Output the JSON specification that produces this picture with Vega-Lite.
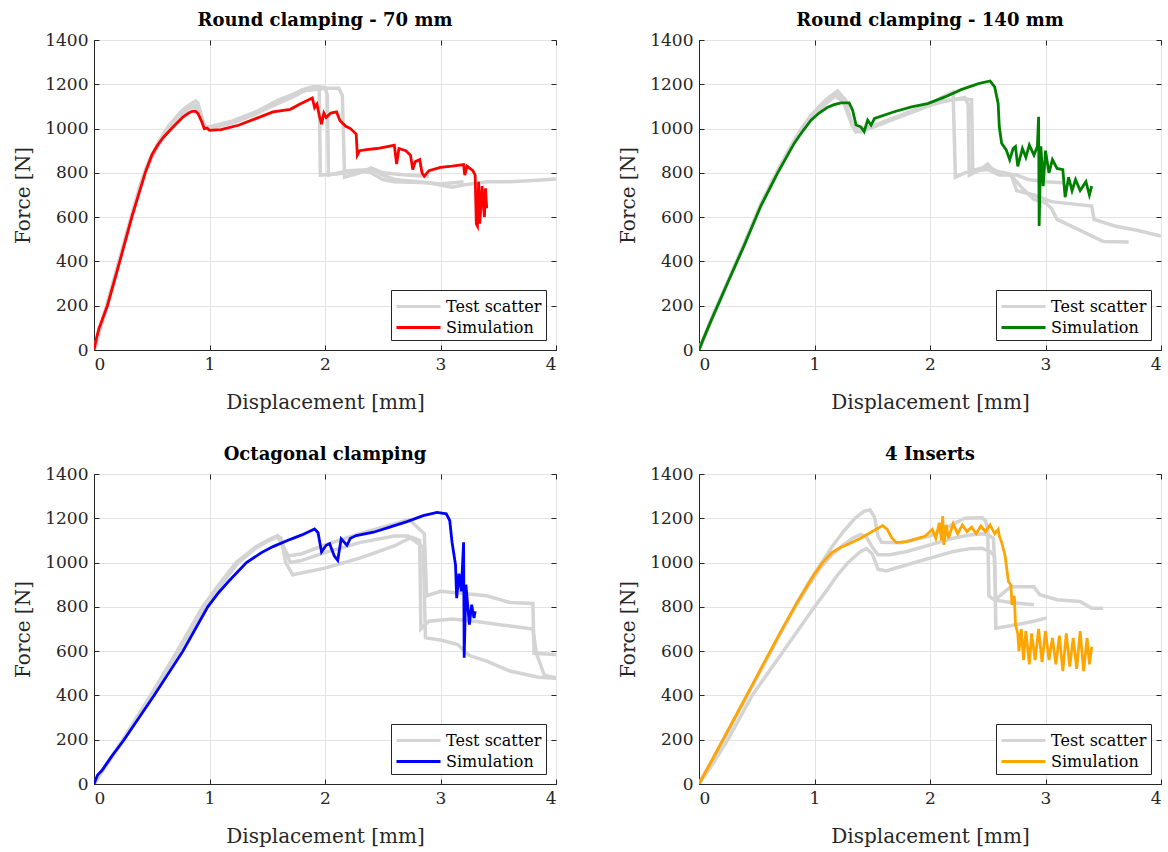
{
"$schema":"https://vega.github.io/schema/vega-lite/v6.json",
"background":"white",
"padding":{"left":13,"top":11,"right":2,"bottom":2},
"config":{
 "font":"DejaVu Serif",
 "view":{"stroke":"#262626","strokeWidth":1},
 "axis":{"domainColor":"#262626","tickColor":"#262626","labelColor":"#262626","titleColor":"#262626","labelFontSize":17,"titleFontSize":20,"titleFontWeight":"normal","gridColor":"#e3e3e3","tickSize":-5,"labelPadding":11},
 "axisX":{"titlePadding":20},
 "axisY":{"titlePadding":11},
 "title":{"fontSize":18,"fontWeight":"bold","color":"black","offset":1},
 "legend":{"orient":"bottom-right","title":null,"strokeColor":"#262626","fillColor":"white","padding":4,"offset":10,"symbolType":"M-1,0L3,0","symbolSize":484,"symbolStrokeWidth":3,"labelFontSize":16,"labelColor":"black","rowPadding":0,"cornerRadius":0,"labelOffset":26,"labelLimit":300}
},
"datasets":{
 "p1":[
{"r":"T1","k":"Test scatter","x":0,"y":0},{"r":"T1","k":"Test scatter","x":0.05,"y":90},{"r":"T1","k":"Test scatter","x":0.1,"y":180},{"r":"T1","k":"Test scatter","x":0.2,"y":370},{"r":"T1","k":"Test scatter","x":0.3,"y":560},{"r":"T1","k":"Test scatter","x":0.4,"y":745},{"r":"T1","k":"Test scatter","x":0.45,"y":820},{"r":"T1","k":"Test scatter","x":0.5,"y":880},{"r":"T1","k":"Test scatter","x":0.55,"y":930},{"r":"T1","k":"Test scatter","x":0.6,"y":975},{"r":"T1","k":"Test scatter","x":0.65,"y":1015},{"r":"T1","k":"Test scatter","x":0.7,"y":1045},{"r":"T1","k":"Test scatter","x":0.75,"y":1075},{"r":"T1","k":"Test scatter","x":0.8,"y":1098},{"r":"T1","k":"Test scatter","x":0.85,"y":1115},{"r":"T1","k":"Test scatter","x":0.88,"y":1125},{"r":"T1","k":"Test scatter","x":0.9,"y":1115},{"r":"T1","k":"Test scatter","x":0.92,"y":1080},{"r":"T1","k":"Test scatter","x":0.95,"y":1020},{"r":"T1","k":"Test scatter","x":0.98,"y":1005},{"r":"T1","k":"Test scatter","x":1.05,"y":1005},{"r":"T1","k":"Test scatter","x":1.2,"y":1030},{"r":"T1","k":"Test scatter","x":1.4,"y":1070},{"r":"T1","k":"Test scatter","x":1.6,"y":1115},{"r":"T1","k":"Test scatter","x":1.75,"y":1150},{"r":"T1","k":"Test scatter","x":1.85,"y":1180},{"r":"T1","k":"Test scatter","x":1.95,"y":1188},{"r":"T1","k":"Test scatter","x":1.96,"y":790},{"r":"T1","k":"Test scatter","x":2.1,"y":795},{"r":"T1","k":"Test scatter","x":2.3,"y":810},{"r":"T1","k":"Test scatter","x":2.4,"y":800},{"r":"T1","k":"Test scatter","x":2.5,"y":770},{"r":"T1","k":"Test scatter","x":2.6,"y":760},{"r":"T1","k":"Test scatter","x":2.9,"y":755},{"r":"T1","k":"Test scatter","x":3.0,"y":745},{"r":"T1","k":"Test scatter","x":3.1,"y":735},{"r":"T1","k":"Test scatter","x":3.2,"y":745},{"r":"T1","k":"Test scatter","x":3.4,"y":760},{"r":"T1","k":"Test scatter","x":3.6,"y":760},{"r":"T1","k":"Test scatter","x":3.8,"y":765},{"r":"T1","k":"Test scatter","x":4.0,"y":772},
{"r":"T2","k":"Test scatter","x":0,"y":0},{"r":"T2","k":"Test scatter","x":0.05,"y":88},{"r":"T2","k":"Test scatter","x":0.1,"y":176},{"r":"T2","k":"Test scatter","x":0.2,"y":362},{"r":"T2","k":"Test scatter","x":0.3,"y":550},{"r":"T2","k":"Test scatter","x":0.4,"y":735},{"r":"T2","k":"Test scatter","x":0.45,"y":810},{"r":"T2","k":"Test scatter","x":0.5,"y":868},{"r":"T2","k":"Test scatter","x":0.55,"y":918},{"r":"T2","k":"Test scatter","x":0.6,"y":962},{"r":"T2","k":"Test scatter","x":0.65,"y":1000},{"r":"T2","k":"Test scatter","x":0.7,"y":1030},{"r":"T2","k":"Test scatter","x":0.75,"y":1060},{"r":"T2","k":"Test scatter","x":0.8,"y":1082},{"r":"T2","k":"Test scatter","x":0.86,"y":1100},{"r":"T2","k":"Test scatter","x":0.9,"y":1085},{"r":"T2","k":"Test scatter","x":0.93,"y":1040},{"r":"T2","k":"Test scatter","x":0.96,"y":1005},{"r":"T2","k":"Test scatter","x":1.0,"y":1000},{"r":"T2","k":"Test scatter","x":1.2,"y":1025},{"r":"T2","k":"Test scatter","x":1.4,"y":1065},{"r":"T2","k":"Test scatter","x":1.6,"y":1120},{"r":"T2","k":"Test scatter","x":1.8,"y":1175},{"r":"T2","k":"Test scatter","x":1.9,"y":1190},{"r":"T2","k":"Test scatter","x":2.0,"y":1186},{"r":"T2","k":"Test scatter","x":2.02,"y":1150},{"r":"T2","k":"Test scatter","x":2.03,"y":790},{"r":"T2","k":"Test scatter","x":2.2,"y":810},{"r":"T2","k":"Test scatter","x":2.4,"y":815},{"r":"T2","k":"Test scatter","x":2.5,"y":790},{"r":"T2","k":"Test scatter","x":2.6,"y":770},{"r":"T2","k":"Test scatter","x":2.8,"y":760},{"r":"T2","k":"Test scatter","x":3.0,"y":750},{"r":"T2","k":"Test scatter","x":3.2,"y":760},
{"r":"T3","k":"Test scatter","x":0,"y":0},{"r":"T3","k":"Test scatter","x":0.05,"y":92},{"r":"T3","k":"Test scatter","x":0.1,"y":182},{"r":"T3","k":"Test scatter","x":0.2,"y":368},{"r":"T3","k":"Test scatter","x":0.3,"y":556},{"r":"T3","k":"Test scatter","x":0.4,"y":740},{"r":"T3","k":"Test scatter","x":0.45,"y":815},{"r":"T3","k":"Test scatter","x":0.5,"y":874},{"r":"T3","k":"Test scatter","x":0.55,"y":924},{"r":"T3","k":"Test scatter","x":0.6,"y":968},{"r":"T3","k":"Test scatter","x":0.65,"y":1008},{"r":"T3","k":"Test scatter","x":0.7,"y":1038},{"r":"T3","k":"Test scatter","x":0.75,"y":1068},{"r":"T3","k":"Test scatter","x":0.8,"y":1090},{"r":"T3","k":"Test scatter","x":0.86,"y":1108},{"r":"T3","k":"Test scatter","x":0.9,"y":1098},{"r":"T3","k":"Test scatter","x":0.94,"y":1030},{"r":"T3","k":"Test scatter","x":0.97,"y":1008},{"r":"T3","k":"Test scatter","x":1.0,"y":1008},{"r":"T3","k":"Test scatter","x":1.2,"y":1035},{"r":"T3","k":"Test scatter","x":1.4,"y":1075},{"r":"T3","k":"Test scatter","x":1.6,"y":1130},{"r":"T3","k":"Test scatter","x":1.8,"y":1170},{"r":"T3","k":"Test scatter","x":2.0,"y":1182},{"r":"T3","k":"Test scatter","x":2.12,"y":1182},{"r":"T3","k":"Test scatter","x":2.15,"y":1150},{"r":"T3","k":"Test scatter","x":2.17,"y":780},{"r":"T3","k":"Test scatter","x":2.3,"y":800},{"r":"T3","k":"Test scatter","x":2.4,"y":822},{"r":"T3","k":"Test scatter","x":2.5,"y":800},{"r":"T3","k":"Test scatter","x":2.7,"y":790},{"r":"T3","k":"Test scatter","x":2.9,"y":785},
{"r":"S","k":"Simulation","x":0,"y":0},{"r":"S","k":"Simulation","x":0.02,"y":50},{"r":"S","k":"Simulation","x":0.043,"y":97},{"r":"S","k":"Simulation","x":0.116,"y":200},{"r":"S","k":"Simulation","x":0.223,"y":400},{"r":"S","k":"Simulation","x":0.327,"y":600},{"r":"S","k":"Simulation","x":0.443,"y":800},{"r":"S","k":"Simulation","x":0.5,"y":880},{"r":"S","k":"Simulation","x":0.55,"y":925},{"r":"S","k":"Simulation","x":0.6,"y":960},{"r":"S","k":"Simulation","x":0.68,"y":1005},{"r":"S","k":"Simulation","x":0.77,"y":1052},{"r":"S","k":"Simulation","x":0.82,"y":1070},{"r":"S","k":"Simulation","x":0.855,"y":1079},{"r":"S","k":"Simulation","x":0.88,"y":1078},{"r":"S","k":"Simulation","x":0.9,"y":1068},{"r":"S","k":"Simulation","x":0.93,"y":1035},{"r":"S","k":"Simulation","x":0.955,"y":1000},{"r":"S","k":"Simulation","x":0.98,"y":1002},{"r":"S","k":"Simulation","x":1.0,"y":992},{"r":"S","k":"Simulation","x":1.1,"y":995},{"r":"S","k":"Simulation","x":1.25,"y":1015},{"r":"S","k":"Simulation","x":1.4,"y":1045},{"r":"S","k":"Simulation","x":1.55,"y":1075},{"r":"S","k":"Simulation","x":1.7,"y":1087},{"r":"S","k":"Simulation","x":1.78,"y":1110},{"r":"S","k":"Simulation","x":1.89,"y":1138},{"r":"S","k":"Simulation","x":1.91,"y":1095},{"r":"S","k":"Simulation","x":1.93,"y":1110},{"r":"S","k":"Simulation","x":1.95,"y":1060},{"r":"S","k":"Simulation","x":1.97,"y":1020},{"r":"S","k":"Simulation","x":1.99,"y":1070},{"r":"S","k":"Simulation","x":2.01,"y":1050},{"r":"S","k":"Simulation","x":2.05,"y":1070},{"r":"S","k":"Simulation","x":2.1,"y":1075},{"r":"S","k":"Simulation","x":2.13,"y":1035},{"r":"S","k":"Simulation","x":2.18,"y":1010},{"r":"S","k":"Simulation","x":2.22,"y":1000},{"r":"S","k":"Simulation","x":2.27,"y":975},{"r":"S","k":"Simulation","x":2.28,"y":880},{"r":"S","k":"Simulation","x":2.3,"y":900},{"r":"S","k":"Simulation","x":2.36,"y":905},{"r":"S","k":"Simulation","x":2.45,"y":910},{"r":"S","k":"Simulation","x":2.55,"y":920},{"r":"S","k":"Simulation","x":2.6,"y":925},{"r":"S","k":"Simulation","x":2.62,"y":840},{"r":"S","k":"Simulation","x":2.64,"y":910},{"r":"S","k":"Simulation","x":2.7,"y":900},{"r":"S","k":"Simulation","x":2.74,"y":880},{"r":"S","k":"Simulation","x":2.76,"y":815},{"r":"S","k":"Simulation","x":2.78,"y":850},{"r":"S","k":"Simulation","x":2.82,"y":860},{"r":"S","k":"Simulation","x":2.84,"y":800},{"r":"S","k":"Simulation","x":2.86,"y":785},{"r":"S","k":"Simulation","x":2.9,"y":810},{"r":"S","k":"Simulation","x":3.0,"y":825},{"r":"S","k":"Simulation","x":3.1,"y":830},{"r":"S","k":"Simulation","x":3.2,"y":837},{"r":"S","k":"Simulation","x":3.21,"y":790},{"r":"S","k":"Simulation","x":3.23,"y":830},{"r":"S","k":"Simulation","x":3.28,"y":810},{"r":"S","k":"Simulation","x":3.3,"y":790},{"r":"S","k":"Simulation","x":3.31,"y":570},{"r":"S","k":"Simulation","x":3.32,"y":560},{"r":"S","k":"Simulation","x":3.33,"y":760},{"r":"S","k":"Simulation","x":3.34,"y":570},{"r":"S","k":"Simulation","x":3.36,"y":740},{"r":"S","k":"Simulation","x":3.38,"y":600},{"r":"S","k":"Simulation","x":3.39,"y":730},{"r":"S","k":"Simulation","x":3.4,"y":640}
 ],
 "p2":[
{"r":"T1","k":"Test scatter","x":0,"y":0},{"r":"T1","k":"Test scatter","x":0.1,"y":130},{"r":"T1","k":"Test scatter","x":0.25,"y":310},{"r":"T1","k":"Test scatter","x":0.39,"y":478},{"r":"T1","k":"Test scatter","x":0.535,"y":658},{"r":"T1","k":"Test scatter","x":0.68,"y":810},{"r":"T1","k":"Test scatter","x":0.825,"y":948},{"r":"T1","k":"Test scatter","x":0.9,"y":1010},{"r":"T1","k":"Test scatter","x":0.97,"y":1060},{"r":"T1","k":"Test scatter","x":1.04,"y":1100},{"r":"T1","k":"Test scatter","x":1.11,"y":1135},{"r":"T1","k":"Test scatter","x":1.2,"y":1170},{"r":"T1","k":"Test scatter","x":1.25,"y":1140},{"r":"T1","k":"Test scatter","x":1.3,"y":1060},{"r":"T1","k":"Test scatter","x":1.35,"y":990},{"r":"T1","k":"Test scatter","x":1.4,"y":985},{"r":"T1","k":"Test scatter","x":1.6,"y":1030},{"r":"T1","k":"Test scatter","x":1.8,"y":1070},{"r":"T1","k":"Test scatter","x":2.0,"y":1110},{"r":"T1","k":"Test scatter","x":2.1,"y":1140},{"r":"T1","k":"Test scatter","x":2.2,"y":1165},{"r":"T1","k":"Test scatter","x":2.22,"y":780},{"r":"T1","k":"Test scatter","x":2.3,"y":800},{"r":"T1","k":"Test scatter","x":2.4,"y":810},{"r":"T1","k":"Test scatter","x":2.5,"y":815},{"r":"T1","k":"Test scatter","x":2.6,"y":790},{"r":"T1","k":"Test scatter","x":2.75,"y":790},{"r":"T1","k":"Test scatter","x":2.85,"y":770},{"r":"T1","k":"Test scatter","x":3.0,"y":760},{"r":"T1","k":"Test scatter","x":3.15,"y":755},
{"r":"T2","k":"Test scatter","x":0,"y":0},{"r":"T2","k":"Test scatter","x":0.1,"y":128},{"r":"T2","k":"Test scatter","x":0.25,"y":308},{"r":"T2","k":"Test scatter","x":0.39,"y":474},{"r":"T2","k":"Test scatter","x":0.535,"y":654},{"r":"T2","k":"Test scatter","x":0.68,"y":804},{"r":"T2","k":"Test scatter","x":0.825,"y":940},{"r":"T2","k":"Test scatter","x":0.9,"y":998},{"r":"T2","k":"Test scatter","x":0.97,"y":1045},{"r":"T2","k":"Test scatter","x":1.04,"y":1085},{"r":"T2","k":"Test scatter","x":1.11,"y":1118},{"r":"T2","k":"Test scatter","x":1.18,"y":1148},{"r":"T2","k":"Test scatter","x":1.25,"y":1120},{"r":"T2","k":"Test scatter","x":1.3,"y":1050},{"r":"T2","k":"Test scatter","x":1.35,"y":1000},{"r":"T2","k":"Test scatter","x":1.5,"y":1010},{"r":"T2","k":"Test scatter","x":1.7,"y":1050},{"r":"T2","k":"Test scatter","x":1.9,"y":1090},{"r":"T2","k":"Test scatter","x":2.1,"y":1120},{"r":"T2","k":"Test scatter","x":2.3,"y":1140},{"r":"T2","k":"Test scatter","x":2.33,"y":1110},{"r":"T2","k":"Test scatter","x":2.34,"y":790},{"r":"T2","k":"Test scatter","x":2.45,"y":820},{"r":"T2","k":"Test scatter","x":2.5,"y":840},{"r":"T2","k":"Test scatter","x":2.55,"y":810},{"r":"T2","k":"Test scatter","x":2.7,"y":795},{"r":"T2","k":"Test scatter","x":2.75,"y":720},{"r":"T2","k":"Test scatter","x":2.9,"y":700},{"r":"T2","k":"Test scatter","x":3.05,"y":670},{"r":"T2","k":"Test scatter","x":3.4,"y":650},{"r":"T2","k":"Test scatter","x":3.42,"y":590},{"r":"T2","k":"Test scatter","x":3.6,"y":560},{"r":"T2","k":"Test scatter","x":3.8,"y":540},{"r":"T2","k":"Test scatter","x":4.0,"y":515},
{"r":"T3","k":"Test scatter","x":0,"y":0},{"r":"T3","k":"Test scatter","x":0.1,"y":129},{"r":"T3","k":"Test scatter","x":0.25,"y":309},{"r":"T3","k":"Test scatter","x":0.39,"y":476},{"r":"T3","k":"Test scatter","x":0.535,"y":656},{"r":"T3","k":"Test scatter","x":0.68,"y":807},{"r":"T3","k":"Test scatter","x":0.825,"y":944},{"r":"T3","k":"Test scatter","x":0.9,"y":1004},{"r":"T3","k":"Test scatter","x":0.97,"y":1052},{"r":"T3","k":"Test scatter","x":1.04,"y":1092},{"r":"T3","k":"Test scatter","x":1.11,"y":1126},{"r":"T3","k":"Test scatter","x":1.2,"y":1160},{"r":"T3","k":"Test scatter","x":1.27,"y":1130},{"r":"T3","k":"Test scatter","x":1.32,"y":1020},{"r":"T3","k":"Test scatter","x":1.36,"y":985},{"r":"T3","k":"Test scatter","x":1.5,"y":1005},{"r":"T3","k":"Test scatter","x":1.7,"y":1045},{"r":"T3","k":"Test scatter","x":1.9,"y":1085},{"r":"T3","k":"Test scatter","x":2.1,"y":1125},{"r":"T3","k":"Test scatter","x":2.3,"y":1135},{"r":"T3","k":"Test scatter","x":2.36,"y":1130},{"r":"T3","k":"Test scatter","x":2.37,"y":810},{"r":"T3","k":"Test scatter","x":2.5,"y":830},{"r":"T3","k":"Test scatter","x":2.6,"y":800},{"r":"T3","k":"Test scatter","x":2.7,"y":790},{"r":"T3","k":"Test scatter","x":2.8,"y":730},{"r":"T3","k":"Test scatter","x":2.9,"y":680},{"r":"T3","k":"Test scatter","x":3.0,"y":665},{"r":"T3","k":"Test scatter","x":3.05,"y":640},{"r":"T3","k":"Test scatter","x":3.1,"y":590},{"r":"T3","k":"Test scatter","x":3.3,"y":540},{"r":"T3","k":"Test scatter","x":3.5,"y":490},{"r":"T3","k":"Test scatter","x":3.72,"y":488},
{"r":"S","k":"Simulation","x":0,"y":0},{"r":"S","k":"Simulation","x":0.03,"y":40},{"r":"S","k":"Simulation","x":0.1,"y":127},{"r":"S","k":"Simulation","x":0.25,"y":306},{"r":"S","k":"Simulation","x":0.39,"y":471},{"r":"S","k":"Simulation","x":0.535,"y":650},{"r":"S","k":"Simulation","x":0.68,"y":799},{"r":"S","k":"Simulation","x":0.825,"y":934},{"r":"S","k":"Simulation","x":0.9,"y":990},{"r":"S","k":"Simulation","x":0.97,"y":1038},{"r":"S","k":"Simulation","x":1.04,"y":1070},{"r":"S","k":"Simulation","x":1.11,"y":1095},{"r":"S","k":"Simulation","x":1.17,"y":1108},{"r":"S","k":"Simulation","x":1.23,"y":1116},{"r":"S","k":"Simulation","x":1.3,"y":1116},{"r":"S","k":"Simulation","x":1.33,"y":1083},{"r":"S","k":"Simulation","x":1.36,"y":1016},{"r":"S","k":"Simulation","x":1.4,"y":1008},{"r":"S","k":"Simulation","x":1.43,"y":986},{"r":"S","k":"Simulation","x":1.46,"y":1038},{"r":"S","k":"Simulation","x":1.49,"y":1016},{"r":"S","k":"Simulation","x":1.52,"y":1046},{"r":"S","k":"Simulation","x":1.69,"y":1076},{"r":"S","k":"Simulation","x":1.84,"y":1098},{"r":"S","k":"Simulation","x":1.98,"y":1113},{"r":"S","k":"Simulation","x":2.13,"y":1143},{"r":"S","k":"Simulation","x":2.27,"y":1176},{"r":"S","k":"Simulation","x":2.42,"y":1203},{"r":"S","k":"Simulation","x":2.52,"y":1215},{"r":"S","k":"Simulation","x":2.56,"y":1188},{"r":"S","k":"Simulation","x":2.59,"y":1113},{"r":"S","k":"Simulation","x":2.6,"y":1008},{"r":"S","k":"Simulation","x":2.62,"y":934},{"r":"S","k":"Simulation","x":2.66,"y":904},{"r":"S","k":"Simulation","x":2.69,"y":859},{"r":"S","k":"Simulation","x":2.72,"y":910},{"r":"S","k":"Simulation","x":2.74,"y":919},{"r":"S","k":"Simulation","x":2.76,"y":829},{"r":"S","k":"Simulation","x":2.8,"y":910},{"r":"S","k":"Simulation","x":2.83,"y":870},{"r":"S","k":"Simulation","x":2.86,"y":926},{"r":"S","k":"Simulation","x":2.9,"y":880},{"r":"S","k":"Simulation","x":2.93,"y":920},{"r":"S","k":"Simulation","x":2.94,"y":1053},{"r":"S","k":"Simulation","x":2.945,"y":560},{"r":"S","k":"Simulation","x":2.96,"y":920},{"r":"S","k":"Simulation","x":2.98,"y":740},{"r":"S","k":"Simulation","x":3.0,"y":900},{"r":"S","k":"Simulation","x":3.03,"y":800},{"r":"S","k":"Simulation","x":3.06,"y":860},{"r":"S","k":"Simulation","x":3.1,"y":820},{"r":"S","k":"Simulation","x":3.15,"y":814},{"r":"S","k":"Simulation","x":3.17,"y":690},{"r":"S","k":"Simulation","x":3.2,"y":780},{"r":"S","k":"Simulation","x":3.23,"y":720},{"r":"S","k":"Simulation","x":3.26,"y":770},{"r":"S","k":"Simulation","x":3.3,"y":720},{"r":"S","k":"Simulation","x":3.35,"y":760},{"r":"S","k":"Simulation","x":3.38,"y":700},{"r":"S","k":"Simulation","x":3.4,"y":740}
 ],
 "p3":[
{"r":"T1","k":"Test scatter","x":0,"y":0},{"r":"T1","k":"Test scatter","x":0.1,"y":85},{"r":"T1","k":"Test scatter","x":0.25,"y":200},{"r":"T1","k":"Test scatter","x":0.49,"y":400},{"r":"T1","k":"Test scatter","x":0.72,"y":600},{"r":"T1","k":"Test scatter","x":0.94,"y":800},{"r":"T1","k":"Test scatter","x":1.08,"y":900},{"r":"T1","k":"Test scatter","x":1.23,"y":1000},{"r":"T1","k":"Test scatter","x":1.4,"y":1070},{"r":"T1","k":"Test scatter","x":1.5,"y":1100},{"r":"T1","k":"Test scatter","x":1.59,"y":1122},{"r":"T1","k":"Test scatter","x":1.62,"y":1110},{"r":"T1","k":"Test scatter","x":1.66,"y":1000},{"r":"T1","k":"Test scatter","x":1.72,"y":945},{"r":"T1","k":"Test scatter","x":2.0,"y":975},{"r":"T1","k":"Test scatter","x":2.3,"y":1020},{"r":"T1","k":"Test scatter","x":2.6,"y":1075},{"r":"T1","k":"Test scatter","x":2.75,"y":1115},{"r":"T1","k":"Test scatter","x":2.82,"y":1100},{"r":"T1","k":"Test scatter","x":2.83,"y":700},{"r":"T1","k":"Test scatter","x":2.9,"y":735},{"r":"T1","k":"Test scatter","x":3.1,"y":745},{"r":"T1","k":"Test scatter","x":3.3,"y":735},{"r":"T1","k":"Test scatter","x":3.5,"y":720},{"r":"T1","k":"Test scatter","x":3.8,"y":700},{"r":"T1","k":"Test scatter","x":3.83,"y":590},{"r":"T1","k":"Test scatter","x":3.9,"y":490},{"r":"T1","k":"Test scatter","x":4.0,"y":480},
{"r":"T2","k":"Test scatter","x":0,"y":0},{"r":"T2","k":"Test scatter","x":0.1,"y":82},{"r":"T2","k":"Test scatter","x":0.25,"y":196},{"r":"T2","k":"Test scatter","x":0.5,"y":400},{"r":"T2","k":"Test scatter","x":0.73,"y":600},{"r":"T2","k":"Test scatter","x":0.95,"y":800},{"r":"T2","k":"Test scatter","x":1.09,"y":900},{"r":"T2","k":"Test scatter","x":1.24,"y":1000},{"r":"T2","k":"Test scatter","x":1.4,"y":1068},{"r":"T2","k":"Test scatter","x":1.5,"y":1098},{"r":"T2","k":"Test scatter","x":1.58,"y":1118},{"r":"T2","k":"Test scatter","x":1.61,"y":1100},{"r":"T2","k":"Test scatter","x":1.68,"y":1030},{"r":"T2","k":"Test scatter","x":1.8,"y":1040},{"r":"T2","k":"Test scatter","x":2.0,"y":1080},{"r":"T2","k":"Test scatter","x":2.3,"y":1130},{"r":"T2","k":"Test scatter","x":2.6,"y":1175},{"r":"T2","k":"Test scatter","x":2.73,"y":1195},{"r":"T2","k":"Test scatter","x":2.8,"y":1160},{"r":"T2","k":"Test scatter","x":2.86,"y":1130},{"r":"T2","k":"Test scatter","x":2.88,"y":850},{"r":"T2","k":"Test scatter","x":3.0,"y":870},{"r":"T2","k":"Test scatter","x":3.2,"y":860},{"r":"T2","k":"Test scatter","x":3.4,"y":850},{"r":"T2","k":"Test scatter","x":3.6,"y":820},{"r":"T2","k":"Test scatter","x":3.8,"y":815},{"r":"T2","k":"Test scatter","x":3.81,"y":590},{"r":"T2","k":"Test scatter","x":4.0,"y":585},
{"r":"T3","k":"Test scatter","x":0,"y":0},{"r":"T3","k":"Test scatter","x":0.1,"y":80},{"r":"T3","k":"Test scatter","x":0.25,"y":193},{"r":"T3","k":"Test scatter","x":0.5,"y":396},{"r":"T3","k":"Test scatter","x":0.74,"y":598},{"r":"T3","k":"Test scatter","x":0.96,"y":800},{"r":"T3","k":"Test scatter","x":1.1,"y":900},{"r":"T3","k":"Test scatter","x":1.25,"y":1000},{"r":"T3","k":"Test scatter","x":1.4,"y":1065},{"r":"T3","k":"Test scatter","x":1.5,"y":1095},{"r":"T3","k":"Test scatter","x":1.58,"y":1115},{"r":"T3","k":"Test scatter","x":1.62,"y":1100},{"r":"T3","k":"Test scatter","x":1.7,"y":1000},{"r":"T3","k":"Test scatter","x":1.8,"y":1010},{"r":"T3","k":"Test scatter","x":2.0,"y":1045},{"r":"T3","k":"Test scatter","x":2.3,"y":1090},{"r":"T3","k":"Test scatter","x":2.6,"y":1120},{"r":"T3","k":"Test scatter","x":2.72,"y":1120},{"r":"T3","k":"Test scatter","x":2.85,"y":1070},{"r":"T3","k":"Test scatter","x":2.87,"y":660},{"r":"T3","k":"Test scatter","x":3.0,"y":650},{"r":"T3","k":"Test scatter","x":3.15,"y":630},{"r":"T3","k":"Test scatter","x":3.25,"y":580},{"r":"T3","k":"Test scatter","x":3.4,"y":555},{"r":"T3","k":"Test scatter","x":3.6,"y":510},{"r":"T3","k":"Test scatter","x":3.85,"y":482},{"r":"T3","k":"Test scatter","x":4.0,"y":478},
{"r":"S","k":"Simulation","x":0,"y":0},{"r":"S","k":"Simulation","x":0.03,"y":40},{"r":"S","k":"Simulation","x":0.07,"y":62},{"r":"S","k":"Simulation","x":0.16,"y":130},{"r":"S","k":"Simulation","x":0.26,"y":200},{"r":"S","k":"Simulation","x":0.52,"y":400},{"r":"S","k":"Simulation","x":0.77,"y":600},{"r":"S","k":"Simulation","x":0.985,"y":800},{"r":"S","k":"Simulation","x":1.08,"y":865},{"r":"S","k":"Simulation","x":1.17,"y":918},{"r":"S","k":"Simulation","x":1.32,"y":1000},{"r":"S","k":"Simulation","x":1.45,"y":1045},{"r":"S","k":"Simulation","x":1.55,"y":1072},{"r":"S","k":"Simulation","x":1.7,"y":1105},{"r":"S","k":"Simulation","x":1.8,"y":1125},{"r":"S","k":"Simulation","x":1.91,"y":1152},{"r":"S","k":"Simulation","x":1.94,"y":1135},{"r":"S","k":"Simulation","x":1.97,"y":1048},{"r":"S","k":"Simulation","x":2.01,"y":1078},{"r":"S","k":"Simulation","x":2.04,"y":1085},{"r":"S","k":"Simulation","x":2.08,"y":1030},{"r":"S","k":"Simulation","x":2.11,"y":1010},{"r":"S","k":"Simulation","x":2.14,"y":1107},{"r":"S","k":"Simulation","x":2.19,"y":1078},{"r":"S","k":"Simulation","x":2.22,"y":1110},{"r":"S","k":"Simulation","x":2.27,"y":1122},{"r":"S","k":"Simulation","x":2.42,"y":1137},{"r":"S","k":"Simulation","x":2.56,"y":1160},{"r":"S","k":"Simulation","x":2.71,"y":1185},{"r":"S","k":"Simulation","x":2.85,"y":1212},{"r":"S","k":"Simulation","x":2.97,"y":1227},{"r":"S","k":"Simulation","x":3.05,"y":1220},{"r":"S","k":"Simulation","x":3.08,"y":1190},{"r":"S","k":"Simulation","x":3.1,"y":1092},{"r":"S","k":"Simulation","x":3.13,"y":990},{"r":"S","k":"Simulation","x":3.14,"y":839},{"r":"S","k":"Simulation","x":3.16,"y":950},{"r":"S","k":"Simulation","x":3.18,"y":870},{"r":"S","k":"Simulation","x":3.2,"y":1092},{"r":"S","k":"Simulation","x":3.205,"y":570},{"r":"S","k":"Simulation","x":3.22,"y":900},{"r":"S","k":"Simulation","x":3.25,"y":720},{"r":"S","k":"Simulation","x":3.27,"y":810},{"r":"S","k":"Simulation","x":3.29,"y":750},{"r":"S","k":"Simulation","x":3.3,"y":780}
 ],
 "p4":[
{"r":"T1","k":"Test scatter","x":0,"y":0},{"r":"T1","k":"Test scatter","x":0.1,"y":92},{"r":"T1","k":"Test scatter","x":0.3,"y":285},{"r":"T1","k":"Test scatter","x":0.5,"y":480},{"r":"T1","k":"Test scatter","x":0.7,"y":675},{"r":"T1","k":"Test scatter","x":0.85,"y":820},{"r":"T1","k":"Test scatter","x":0.95,"y":910},{"r":"T1","k":"Test scatter","x":1.05,"y":990},{"r":"T1","k":"Test scatter","x":1.15,"y":1070},{"r":"T1","k":"Test scatter","x":1.25,"y":1140},{"r":"T1","k":"Test scatter","x":1.35,"y":1200},{"r":"T1","k":"Test scatter","x":1.43,"y":1232},{"r":"T1","k":"Test scatter","x":1.48,"y":1238},{"r":"T1","k":"Test scatter","x":1.52,"y":1205},{"r":"T1","k":"Test scatter","x":1.55,"y":1120},{"r":"T1","k":"Test scatter","x":1.58,"y":1092},{"r":"T1","k":"Test scatter","x":1.75,"y":1090},{"r":"T1","k":"Test scatter","x":2.0,"y":1120},{"r":"T1","k":"Test scatter","x":2.15,"y":1160},{"r":"T1","k":"Test scatter","x":2.3,"y":1200},{"r":"T1","k":"Test scatter","x":2.45,"y":1202},{"r":"T1","k":"Test scatter","x":2.48,"y":1190},{"r":"T1","k":"Test scatter","x":2.5,"y":1150},{"r":"T1","k":"Test scatter","x":2.51,"y":850},{"r":"T1","k":"Test scatter","x":2.56,"y":830},{"r":"T1","k":"Test scatter","x":2.65,"y":870},{"r":"T1","k":"Test scatter","x":2.7,"y":891},{"r":"T1","k":"Test scatter","x":2.9,"y":891},{"r":"T1","k":"Test scatter","x":2.95,"y":855},{"r":"T1","k":"Test scatter","x":3.1,"y":832},{"r":"T1","k":"Test scatter","x":3.3,"y":824},{"r":"T1","k":"Test scatter","x":3.4,"y":794},{"r":"T1","k":"Test scatter","x":3.5,"y":794},
{"r":"T2","k":"Test scatter","x":0,"y":0},{"r":"T2","k":"Test scatter","x":0.1,"y":95},{"r":"T2","k":"Test scatter","x":0.3,"y":288},{"r":"T2","k":"Test scatter","x":0.5,"y":482},{"r":"T2","k":"Test scatter","x":0.7,"y":676},{"r":"T2","k":"Test scatter","x":0.85,"y":815},{"r":"T2","k":"Test scatter","x":0.95,"y":898},{"r":"T2","k":"Test scatter","x":1.05,"y":975},{"r":"T2","k":"Test scatter","x":1.15,"y":1035},{"r":"T2","k":"Test scatter","x":1.25,"y":1080},{"r":"T2","k":"Test scatter","x":1.33,"y":1110},{"r":"T2","k":"Test scatter","x":1.4,"y":1127},{"r":"T2","k":"Test scatter","x":1.45,"y":1115},{"r":"T2","k":"Test scatter","x":1.5,"y":1070},{"r":"T2","k":"Test scatter","x":1.55,"y":1035},{"r":"T2","k":"Test scatter","x":1.65,"y":1035},{"r":"T2","k":"Test scatter","x":1.8,"y":1050},{"r":"T2","k":"Test scatter","x":2.0,"y":1080},{"r":"T2","k":"Test scatter","x":2.2,"y":1110},{"r":"T2","k":"Test scatter","x":2.35,"y":1125},{"r":"T2","k":"Test scatter","x":2.45,"y":1130},{"r":"T2","k":"Test scatter","x":2.5,"y":1125},{"r":"T2","k":"Test scatter","x":2.55,"y":1110},{"r":"T2","k":"Test scatter","x":2.57,"y":830},{"r":"T2","k":"Test scatter","x":2.7,"y":820},{"r":"T2","k":"Test scatter","x":2.9,"y":809},
{"r":"T3","k":"Test scatter","x":0,"y":0},{"r":"T3","k":"Test scatter","x":0.1,"y":75},{"r":"T3","k":"Test scatter","x":0.25,"y":200},{"r":"T3","k":"Test scatter","x":0.46,"y":400},{"r":"T3","k":"Test scatter","x":0.73,"y":600},{"r":"T3","k":"Test scatter","x":1.0,"y":800},{"r":"T3","k":"Test scatter","x":1.1,"y":870},{"r":"T3","k":"Test scatter","x":1.2,"y":945},{"r":"T3","k":"Test scatter","x":1.3,"y":1005},{"r":"T3","k":"Test scatter","x":1.4,"y":1050},{"r":"T3","k":"Test scatter","x":1.45,"y":1063},{"r":"T3","k":"Test scatter","x":1.5,"y":1040},{"r":"T3","k":"Test scatter","x":1.55,"y":970},{"r":"T3","k":"Test scatter","x":1.62,"y":962},{"r":"T3","k":"Test scatter","x":1.8,"y":990},{"r":"T3","k":"Test scatter","x":2.0,"y":1020},{"r":"T3","k":"Test scatter","x":2.2,"y":1050},{"r":"T3","k":"Test scatter","x":2.35,"y":1063},{"r":"T3","k":"Test scatter","x":2.45,"y":1065},{"r":"T3","k":"Test scatter","x":2.52,"y":1050},{"r":"T3","k":"Test scatter","x":2.56,"y":1030},{"r":"T3","k":"Test scatter","x":2.57,"y":704},{"r":"T3","k":"Test scatter","x":2.7,"y":715},{"r":"T3","k":"Test scatter","x":2.9,"y":735},{"r":"T3","k":"Test scatter","x":3.01,"y":750},
{"r":"S","k":"Simulation","x":0,"y":0},{"r":"S","k":"Simulation","x":0.1,"y":95},{"r":"S","k":"Simulation","x":0.3,"y":290},{"r":"S","k":"Simulation","x":0.5,"y":485},{"r":"S","k":"Simulation","x":0.7,"y":680},{"r":"S","k":"Simulation","x":0.85,"y":820},{"r":"S","k":"Simulation","x":0.95,"y":905},{"r":"S","k":"Simulation","x":1.0,"y":948},{"r":"S","k":"Simulation","x":1.07,"y":1000},{"r":"S","k":"Simulation","x":1.15,"y":1045},{"r":"S","k":"Simulation","x":1.22,"y":1067},{"r":"S","k":"Simulation","x":1.3,"y":1085},{"r":"S","k":"Simulation","x":1.4,"y":1110},{"r":"S","k":"Simulation","x":1.5,"y":1140},{"r":"S","k":"Simulation","x":1.59,"y":1167},{"r":"S","k":"Simulation","x":1.63,"y":1150},{"r":"S","k":"Simulation","x":1.67,"y":1110},{"r":"S","k":"Simulation","x":1.71,"y":1090},{"r":"S","k":"Simulation","x":1.8,"y":1095},{"r":"S","k":"Simulation","x":1.96,"y":1120},{"r":"S","k":"Simulation","x":2.02,"y":1150},{"r":"S","k":"Simulation","x":2.05,"y":1110},{"r":"S","k":"Simulation","x":2.08,"y":1180},{"r":"S","k":"Simulation","x":2.1,"y":1100},{"r":"S","k":"Simulation","x":2.11,"y":1210},{"r":"S","k":"Simulation","x":2.12,"y":1080},{"r":"S","k":"Simulation","x":2.14,"y":1170},{"r":"S","k":"Simulation","x":2.16,"y":1110},{"r":"S","k":"Simulation","x":2.2,"y":1175},{"r":"S","k":"Simulation","x":2.24,"y":1130},{"r":"S","k":"Simulation","x":2.28,"y":1170},{"r":"S","k":"Simulation","x":2.32,"y":1140},{"r":"S","k":"Simulation","x":2.36,"y":1160},{"r":"S","k":"Simulation","x":2.4,"y":1130},{"r":"S","k":"Simulation","x":2.44,"y":1165},{"r":"S","k":"Simulation","x":2.48,"y":1140},{"r":"S","k":"Simulation","x":2.52,"y":1170},{"r":"S","k":"Simulation","x":2.56,"y":1130},{"r":"S","k":"Simulation","x":2.59,"y":1150},{"r":"S","k":"Simulation","x":2.6,"y":1120},{"r":"S","k":"Simulation","x":2.62,"y":1092},{"r":"S","k":"Simulation","x":2.65,"y":1030},{"r":"S","k":"Simulation","x":2.68,"y":913},{"r":"S","k":"Simulation","x":2.7,"y":900},{"r":"S","k":"Simulation","x":2.71,"y":809},{"r":"S","k":"Simulation","x":2.73,"y":850},{"r":"S","k":"Simulation","x":2.74,"y":719},{"r":"S","k":"Simulation","x":2.76,"y":680},{"r":"S","k":"Simulation","x":2.77,"y":600},{"r":"S","k":"Simulation","x":2.79,"y":700},{"r":"S","k":"Simulation","x":2.81,"y":560},{"r":"S","k":"Simulation","x":2.83,"y":690},{"r":"S","k":"Simulation","x":2.86,"y":540},{"r":"S","k":"Simulation","x":2.88,"y":680},{"r":"S","k":"Simulation","x":2.91,"y":560},{"r":"S","k":"Simulation","x":2.94,"y":700},{"r":"S","k":"Simulation","x":2.97,"y":550},{"r":"S","k":"Simulation","x":3.0,"y":690},{"r":"S","k":"Simulation","x":3.03,"y":560},{"r":"S","k":"Simulation","x":3.06,"y":660},{"r":"S","k":"Simulation","x":3.09,"y":540},{"r":"S","k":"Simulation","x":3.12,"y":670},{"r":"S","k":"Simulation","x":3.15,"y":510},{"r":"S","k":"Simulation","x":3.18,"y":680},{"r":"S","k":"Simulation","x":3.21,"y":530},{"r":"S","k":"Simulation","x":3.24,"y":660},{"r":"S","k":"Simulation","x":3.27,"y":520},{"r":"S","k":"Simulation","x":3.3,"y":690},{"r":"S","k":"Simulation","x":3.33,"y":510},{"r":"S","k":"Simulation","x":3.36,"y":660},{"r":"S","k":"Simulation","x":3.38,"y":540},{"r":"S","k":"Simulation","x":3.4,"y":620}
 ]
},
"spacing":32,
"vconcat":[
 {"spacing":61,"hconcat":[
  {"title":"Round clamping - 70 mm","width":462,"height":310,"data":{"name":"p1"},
   "layer":[
    {"transform":[{"filter":"datum.k == 'Test scatter'"}],"mark":{"type":"line","strokeWidth":3.5,"clip":true},
     "encoding":{
      "x":{"field":"x","type":"quantitative","scale":{"domain":[0,4],"nice":false},"axis":{"values":[0,1,2,3,4],"title":"Displacement [mm]"}},
      "y":{"field":"y","type":"quantitative","scale":{"domain":[0,1400],"nice":false},"axis":{"values":[0,200,400,600,800,1000,1200,1400],"title":"Force [N]","format":"d"}},
      "color":{"field":"k","type":"nominal","scale":{"domain":["Test scatter","Simulation"],"range":["#d4d4d4","#ff0000"]}},
      "detail":{"field":"r"},"order":{"value":null}}},
    {"transform":[{"filter":"datum.k == 'Simulation'"}],"mark":{"type":"line","strokeWidth":2.8,"clip":true},
     "encoding":{
      "x":{"field":"x","type":"quantitative","axis":{"orient":"top","values":[0,1,2,3,4],"labels":false,"title":null,"grid":false,"domain":false}},
      "y":{"field":"y","type":"quantitative","axis":{"orient":"right","values":[0,200,400,600,800,1000,1200,1400],"labels":false,"title":null,"grid":false,"domain":false}},
      "color":{"field":"k","type":"nominal"},
      "detail":{"field":"r"},"order":{"value":null}}}
   ],"resolve":{"axis":{"x":"independent","y":"independent"}}},
  {"title":"Round clamping - 140 mm","width":462,"height":310,"data":{"name":"p2"},
   "layer":[
    {"transform":[{"filter":"datum.k == 'Test scatter'"}],"mark":{"type":"line","strokeWidth":3.5,"clip":true},
     "encoding":{
      "x":{"field":"x","type":"quantitative","scale":{"domain":[0,4],"nice":false},"axis":{"values":[0,1,2,3,4],"title":"Displacement [mm]"}},
      "y":{"field":"y","type":"quantitative","scale":{"domain":[0,1400],"nice":false},"axis":{"values":[0,200,400,600,800,1000,1200,1400],"title":"Force [N]","format":"d"}},
      "color":{"field":"k","type":"nominal","scale":{"domain":["Test scatter","Simulation"],"range":["#d4d4d4","#008000"]}},
      "detail":{"field":"r"},"order":{"value":null}}},
    {"transform":[{"filter":"datum.k == 'Simulation'"}],"mark":{"type":"line","strokeWidth":2.8,"clip":true},
     "encoding":{
      "x":{"field":"x","type":"quantitative","axis":{"orient":"top","values":[0,1,2,3,4],"labels":false,"title":null,"grid":false,"domain":false}},
      "y":{"field":"y","type":"quantitative","axis":{"orient":"right","values":[0,200,400,600,800,1000,1200,1400],"labels":false,"title":null,"grid":false,"domain":false}},
      "color":{"field":"k","type":"nominal"},
      "detail":{"field":"r"},"order":{"value":null}}}
   ],"resolve":{"axis":{"x":"independent","y":"independent"}}}
 ],"resolve":{"scale":{"color":"independent"}}},
 {"spacing":61,"hconcat":[
  {"title":"Octagonal clamping","width":462,"height":310,"data":{"name":"p3"},
   "layer":[
    {"transform":[{"filter":"datum.k == 'Test scatter'"}],"mark":{"type":"line","strokeWidth":3.5,"clip":true},
     "encoding":{
      "x":{"field":"x","type":"quantitative","scale":{"domain":[0,4],"nice":false},"axis":{"values":[0,1,2,3,4],"title":"Displacement [mm]"}},
      "y":{"field":"y","type":"quantitative","scale":{"domain":[0,1400],"nice":false},"axis":{"values":[0,200,400,600,800,1000,1200,1400],"title":"Force [N]","format":"d"}},
      "color":{"field":"k","type":"nominal","scale":{"domain":["Test scatter","Simulation"],"range":["#d4d4d4","#0000ff"]}},
      "detail":{"field":"r"},"order":{"value":null}}},
    {"transform":[{"filter":"datum.k == 'Simulation'"}],"mark":{"type":"line","strokeWidth":2.8,"clip":true},
     "encoding":{
      "x":{"field":"x","type":"quantitative","axis":{"orient":"top","values":[0,1,2,3,4],"labels":false,"title":null,"grid":false,"domain":false}},
      "y":{"field":"y","type":"quantitative","axis":{"orient":"right","values":[0,200,400,600,800,1000,1200,1400],"labels":false,"title":null,"grid":false,"domain":false}},
      "color":{"field":"k","type":"nominal"},
      "detail":{"field":"r"},"order":{"value":null}}}
   ],"resolve":{"axis":{"x":"independent","y":"independent"}}},
  {"title":"4 Inserts","width":462,"height":310,"data":{"name":"p4"},
   "layer":[
    {"transform":[{"filter":"datum.k == 'Test scatter'"}],"mark":{"type":"line","strokeWidth":3.5,"clip":true},
     "encoding":{
      "x":{"field":"x","type":"quantitative","scale":{"domain":[0,4],"nice":false},"axis":{"values":[0,1,2,3,4],"title":"Displacement [mm]"}},
      "y":{"field":"y","type":"quantitative","scale":{"domain":[0,1400],"nice":false},"axis":{"values":[0,200,400,600,800,1000,1200,1400],"title":"Force [N]","format":"d"}},
      "color":{"field":"k","type":"nominal","scale":{"domain":["Test scatter","Simulation"],"range":["#d4d4d4","#ffa500"]}},
      "detail":{"field":"r"},"order":{"value":null}}},
    {"transform":[{"filter":"datum.k == 'Simulation'"}],"mark":{"type":"line","strokeWidth":2.8,"clip":true},
     "encoding":{
      "x":{"field":"x","type":"quantitative","axis":{"orient":"top","values":[0,1,2,3,4],"labels":false,"title":null,"grid":false,"domain":false}},
      "y":{"field":"y","type":"quantitative","axis":{"orient":"right","values":[0,200,400,600,800,1000,1200,1400],"labels":false,"title":null,"grid":false,"domain":false}},
      "color":{"field":"k","type":"nominal"},
      "detail":{"field":"r"},"order":{"value":null}}}
   ],"resolve":{"axis":{"x":"independent","y":"independent"}}}
 ],"resolve":{"scale":{"color":"independent"}}}
],
"resolve":{"scale":{"color":"independent"}}
}
